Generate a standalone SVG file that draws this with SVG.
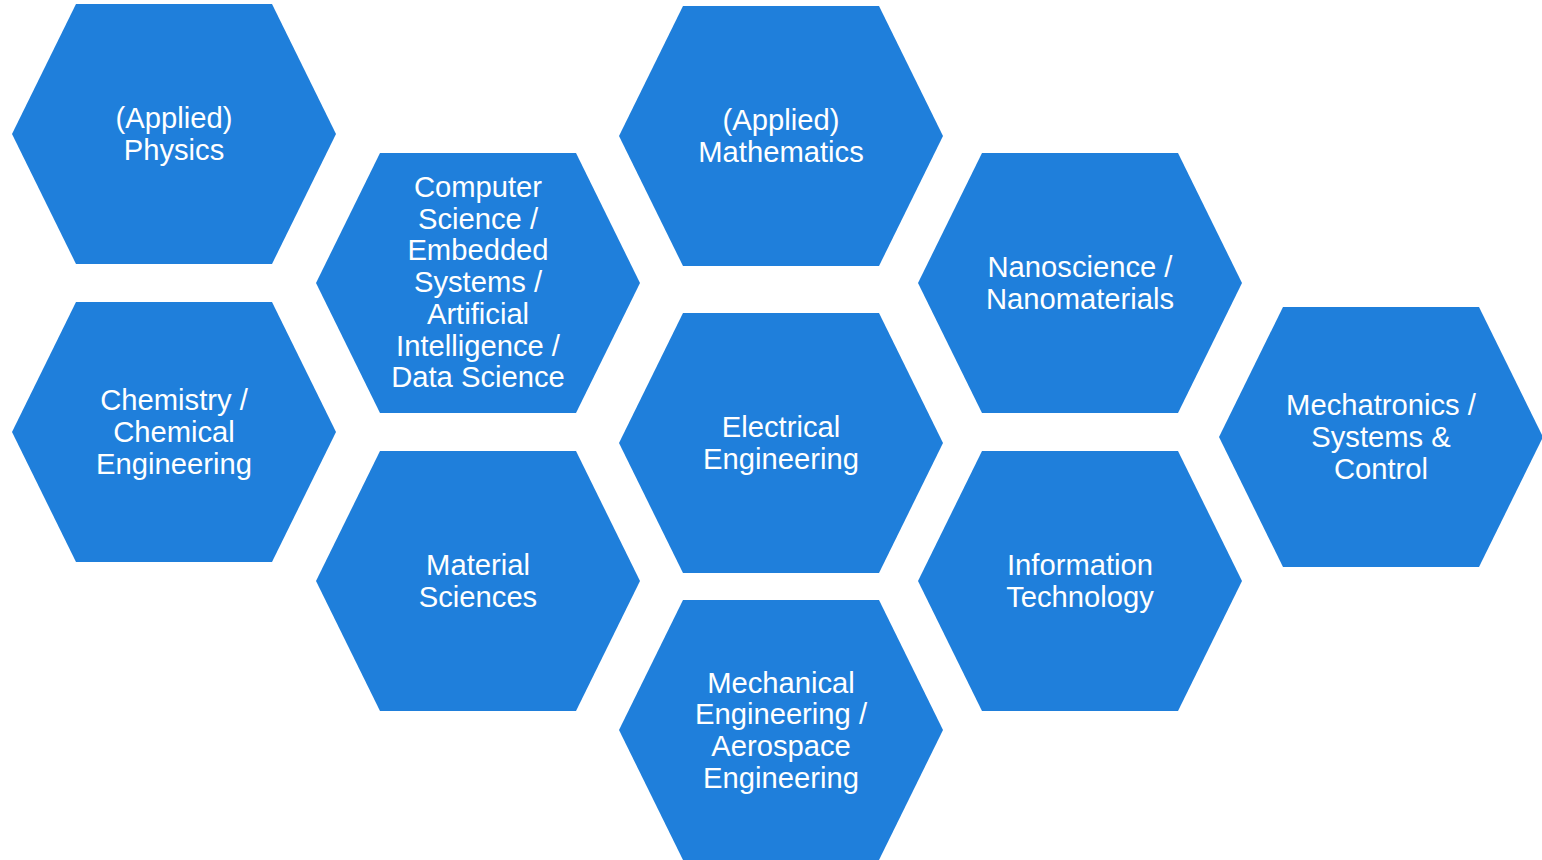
<svg xmlns="http://www.w3.org/2000/svg" width="1542" height="860" viewBox="0 0 1542 860">
<defs>
<style>
.hex{fill:#1F7FDB;}
.lbl{font-family:"Liberation Sans",Arial,sans-serif;font-size:29.2px;fill:#FFFFFF;text-anchor:middle;}
</style>
<polygon id="hexshape" points="-162,0 -98,-130 98,-130 162,0 98,130 -98,130"/>
</defs>
<rect width="1542" height="860" fill="#FFFFFF"/>
<g id="connectors"></g>
<g id="physics" transform="translate(174,134)">
<use href="#hexshape" class="hex"/>
<text class="lbl"><tspan x="0" y="-6">(Applied)</tspan><tspan x="0" y="25.7">Physics</tspan></text>
</g>
<g id="chemistry" transform="translate(174,432)">
<use href="#hexshape" class="hex"/>
<text class="lbl"><tspan x="0" y="-21.7">Chemistry /</tspan><tspan x="0" y="10">Chemical</tspan><tspan x="0" y="41.7">Engineering</tspan></text>
</g>
<g id="computer-science" transform="translate(478,283)">
<use href="#hexshape" class="hex"/>
<text class="lbl"><tspan x="0" y="-86">Computer</tspan><tspan x="0" y="-54.3">Science /</tspan><tspan x="0" y="-22.6">Embedded</tspan><tspan x="0" y="9.1">Systems /</tspan><tspan x="0" y="40.8">Artificial</tspan><tspan x="0" y="72.5">Intelligence /</tspan><tspan x="0" y="104.2">Data Science</tspan></text>
</g>
<g id="material-sciences" transform="translate(478,581)">
<use href="#hexshape" class="hex"/>
<text class="lbl"><tspan x="0" y="-6">Material</tspan><tspan x="0" y="25.7">Sciences</tspan></text>
</g>
<g id="mathematics" transform="translate(781,136)">
<use href="#hexshape" class="hex"/>
<text class="lbl"><tspan x="0" y="-6">(Applied)</tspan><tspan x="0" y="25.7">Mathematics</tspan></text>
</g>
<g id="electrical" transform="translate(781,443)">
<use href="#hexshape" class="hex"/>
<text class="lbl"><tspan x="0" y="-6">Electrical</tspan><tspan x="0" y="25.7">Engineering</tspan></text>
</g>
<g id="mechanical" transform="translate(781,730)">
<use href="#hexshape" class="hex"/>
<text class="lbl"><tspan x="0" y="-37.5">Mechanical</tspan><tspan x="0" y="-5.8">Engineering /</tspan><tspan x="0" y="25.9">Aerospace</tspan><tspan x="0" y="57.6">Engineering</tspan></text>
</g>
<g id="nanoscience" transform="translate(1080,283)">
<use href="#hexshape" class="hex"/>
<text class="lbl"><tspan x="0" y="-6">Nanoscience /</tspan><tspan x="0" y="25.7">Nanomaterials</tspan></text>
</g>
<g id="information-technology" transform="translate(1080,581)">
<use href="#hexshape" class="hex"/>
<text class="lbl"><tspan x="0" y="-6">Information</tspan><tspan x="0" y="25.7">Technology</tspan></text>
</g>
<g id="mechatronics" transform="translate(1381,437)">
<use href="#hexshape" class="hex"/>
<text class="lbl"><tspan x="0" y="-21.7">Mechatronics /</tspan><tspan x="0" y="10">Systems &amp;</tspan><tspan x="0" y="41.7">Control</tspan></text>
</g>
</svg>
